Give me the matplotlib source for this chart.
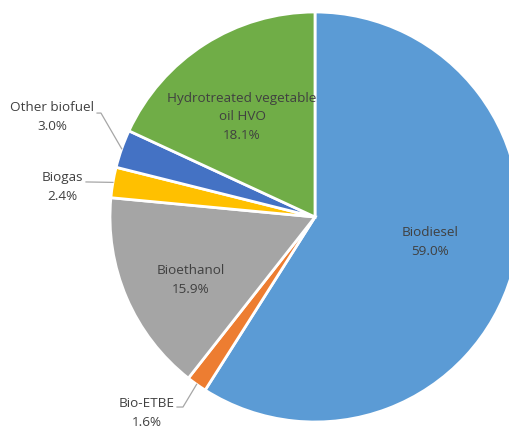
import numpy as np
import matplotlib
matplotlib.use("Agg")
import matplotlib.pyplot as plt

categories = ["Biodiesel", "Bio-ETBE", "Bioethanol", "Biogas", "Other biofuel",
              "Hydrotreated vegetable\noil HVO"]
values = [59.0, 1.6, 15.9, 2.4, 3.0, 18.1]
colors = ["#5B9BD5", "#ED7D31", "#A5A5A5", "#FFC000", "#4472C4", "#70AD47"]

plt.rcParams['font.family'] = ['Open Sans', 'DejaVu Sans']
W, H = 509, 428
fig = plt.figure(figsize=(W / 100, H / 100), dpi=100)
cx, cy, r = 315, 217, 205
ax = fig.add_axes([(cx - r) / W, (H - cy - r) / H, 2 * r / W, 2 * r / H])
ax.axis("off")

wedges, _ = ax.pie(values, colors=colors, startangle=90, counterclock=False,
                   radius=1, wedgeprops=dict(edgecolor="white", linewidth=2))
ax.set_xlim(-1, 1)
ax.set_ylim(-1, 1)

txt_color = "#404040"
fs = 9.7
ls = 1.55
# inside labels
inside = {0: (0.561, -0.122), 2: (-0.605, -0.307), 5: (-0.356, 0.488)}
for i, (x, y) in inside.items():
    ax.text(x, y, f"{categories[i]}\n{values[i]:.1f}%", ha="center", va="center",
            fontsize=fs, color=txt_color, linespacing=ls)

# outside labels with leader lines
def edge_point(i):
    start = 90 - sum(values[:i]) * 3.6
    mid = start - values[i] * 3.6 / 2
    a = np.deg2rad(mid)
    return np.cos(a), np.sin(a)

outside = {
    4: ((-1.283, 0.488), [(-1.063, 0.507), (-1.044, 0.507)]),
    3: ((-1.234, 0.146), [(-1.117, 0.171)]),
    1: ((-0.820, -0.956), [(-0.673, -0.927), (-0.644, -0.927)]),
}
for i, ((x, y), pts) in outside.items():
    ax.text(x, y, f"{categories[i]}\n{values[i]:.1f}%", ha="center", va="center",
            fontsize=fs, color=txt_color, linespacing=ls)
    ex, ey = edge_point(i)
    xs = [p[0] for p in pts] + [ex]
    ys = [p[1] for p in pts] + [ey]
    ax.plot(xs, ys, color="#A6A6A6", linewidth=0.9, clip_on=False)

fig.savefig("out.png", dpi=100)
